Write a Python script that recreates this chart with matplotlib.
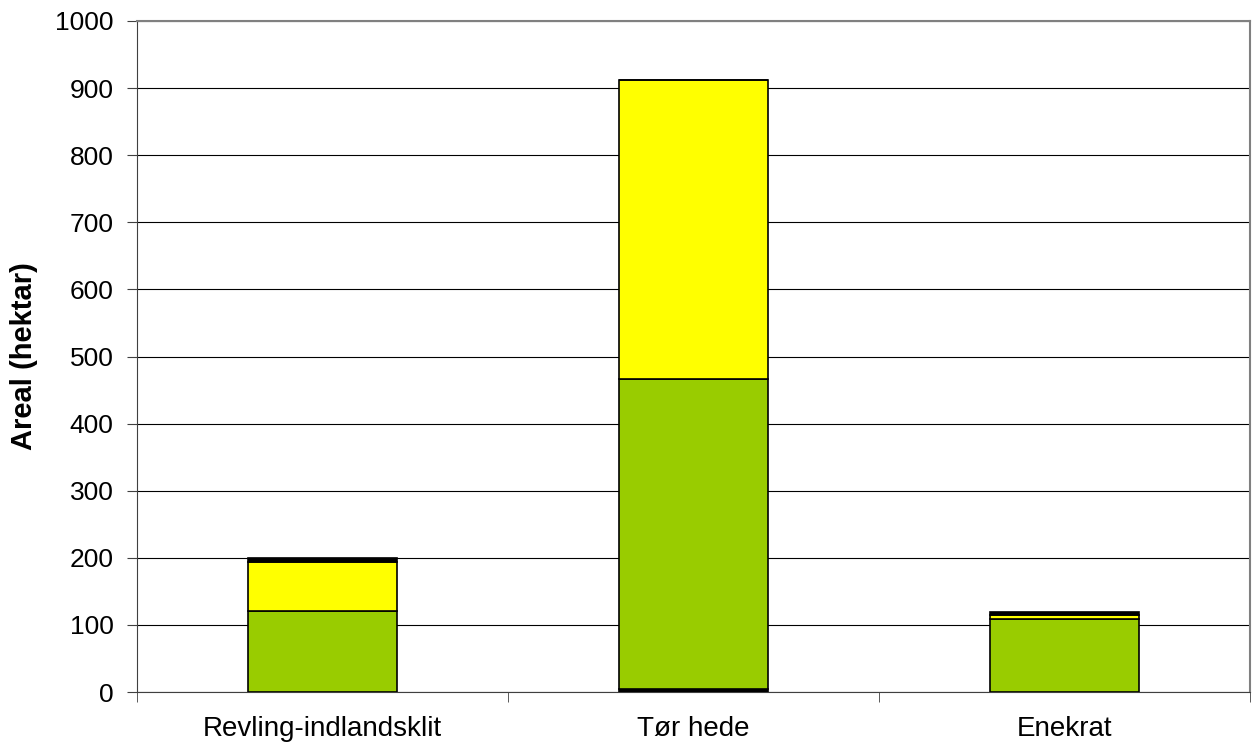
import numpy as np
import matplotlib.pyplot as plt

plt.rcParams['font.family'] = ['Liberation Sans', 'DejaVu Sans']

kategorier = ['Revling-indlandsklit', 'Tør hede', 'Enekrat']
mork_bund = [0, 4, 0]
groen = [120, 463, 109]
gul = [74, 445, 6]
mork_top = [5, 0, 4]

fig = plt.figure(figsize=(12.53, 7.47), dpi=100)
ax = fig.add_axes([137 / 1253, 1 - 692 / 747, (1250 - 137) / 1253, (692 - 21) / 747])

x = np.arange(len(kategorier))
bund = np.zeros(len(kategorier))
for vaerdier, farve in [(mork_bund, '#000000'), (groen, '#99cc00'),
                        (gul, '#ffff00'), (mork_top, '#000000')]:
    ax.bar(x, vaerdier, 0.4, bottom=bund, color=farve, edgecolor='black', linewidth=1.2, zorder=3)
    bund += np.array(vaerdier)

ax.set_xlim(-0.5, 2.5)
ax.set_ylim(0, 1000)
ax.set_yticks(range(0, 1001, 100))
ax.set_xticks(x)
ax.set_xticklabels(kategorier, fontsize=20)
ax.tick_params(axis='x', length=0, pad=17)
ax.set_xticks([-0.5, 0.5, 1.5, 2.5], minor=True)
ax.tick_params(axis='x', which='minor', length=7, color='#404040')
ax.tick_params(axis='y', labelsize=19, length=7, direction='out', color='#404040', pad=10)
ax.grid(axis='y', color='#000000', linewidth=0.8, zorder=0)
ax.set_ylabel('Areal (hektar)', fontsize=21, fontweight='bold', labelpad=12)

ax.spines['top'].set_color('#808080')
ax.spines['right'].set_color('#808080')
ax.spines['top'].set_linewidth(1.5)
ax.spines['right'].set_linewidth(1.5)
ax.spines['left'].set_color('#404040')
ax.spines['bottom'].set_color('#404040')

fig.savefig('out.png', dpi=100)
